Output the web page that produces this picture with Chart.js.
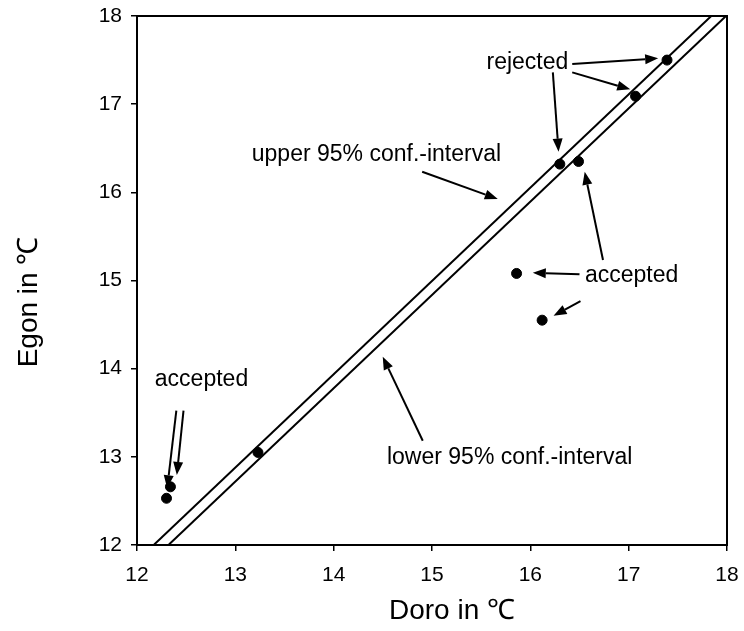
<!DOCTYPE html>
<html lang="en">
<head>
    <meta charset="UTF-8">
    <title>Egon vs Doro</title>
    <script src="https://cdnjs.cloudflare.com/ajax/libs/Chart.js/4.4.0/chart.umd.min.js"></script>
    <style>
        html, body { margin: 0; padding: 0; background: #fff; }
        .chart-box { position: relative; width: 744px; height: 631px; }
    </style>
</head>
<body>
    <div class="chart-box">
        <canvas id="tempChart"></canvas>
    </div>

    <script>
        // measured points (Doro vs Egon, degrees C)
        const doroValues = [12.30, 12.34, 13.23, 15.86, 16.12, 16.30, 16.49, 17.07, 17.39];
        const egonValues = [12.53, 12.66, 13.05, 15.08, 14.55, 16.32, 16.35, 17.09, 17.50];

        // confidence interval lines (two end points each)
        const upperX = [12.17, 17.84];
        const upperY = [12, 18];
        const lowerX = [12.32, 17.99];
        const lowerY = [12, 18];

        const xTicks = [12, 13, 14, 15, 16, 17, 18];
        const yTicks = [12, 13, 14, 15, 16, 17, 18];

        // annotation texts, anchored in data units
        const noteTexts = ['rejected', 'upper 95% conf.-interval', 'accepted', 'lower 95% conf.-interval', 'accepted'];
        const noteX = [15.97, 14.435, 17.03, 15.79, 12.656];
        const noteY = [17.47, 16.423, 15.05, 12.99, 13.871];

        // arrows: start -> head, data units
        const arrowFromX = [16.426, 16.426, 16.229, 16.739, 16.50, 16.51, 14.90, 14.906, 12.40, 12.473];
        const arrowFromY = [17.455, 17.361, 17.361, 15.232, 15.07, 14.767, 16.234, 13.183, 13.523, 13.523];
        const arrowToX = [17.30, 17.016, 16.287, 16.553, 16.025, 16.236, 15.669, 14.499, 12.307, 12.405];
        const arrowToY = [17.52, 17.168, 16.461, 16.234, 15.088, 14.60, 15.924, 14.136, 12.643, 12.794];

        const fontFamily = '"Liberation Sans", Arial, sans-serif';

        function toPoints(xs, ys) {
            return xs.map((v, i) => ({ x: v, y: ys[i] }));
        }

        function drawArrow(ctx, x0, y0, x1, y1) {
            const ang = Math.atan2(y1 - y0, x1 - x0);
            const headLen = 13, headW = 5;
            const bx = x1 - headLen * Math.cos(ang);
            const by = y1 - headLen * Math.sin(ang);
            ctx.beginPath();
            ctx.moveTo(x0, y0);
            ctx.lineTo(bx, by);
            ctx.stroke();
            ctx.beginPath();
            ctx.moveTo(x1, y1);
            ctx.lineTo(bx + headW * Math.sin(ang), by - headW * Math.cos(ang));
            ctx.lineTo(bx - headW * Math.sin(ang), by + headW * Math.cos(ang));
            ctx.closePath();
            ctx.fill();
        }

        const notesPlugin = {
            id: 'notes',
            afterDatasetsDraw(chart) {
                const { ctx, chartArea: a, scales: { x, y } } = chart;
                ctx.save();
                ctx.strokeStyle = '#000';
                ctx.fillStyle = '#000';

                // plot frame
                ctx.lineWidth = 2;
                ctx.strokeRect(a.left, a.top, a.right - a.left, a.bottom - a.top);

                // arrows
                arrowFromX.forEach((v, i) => {
                    drawArrow(ctx,
                        x.getPixelForValue(v), y.getPixelForValue(arrowFromY[i]),
                        x.getPixelForValue(arrowToX[i]), y.getPixelForValue(arrowToY[i]));
                });

                // annotation texts
                ctx.font = '23px ' + fontFamily;
                ctx.textAlign = 'center';
                ctx.textBaseline = 'middle';
                noteTexts.forEach((t, i) => {
                    ctx.fillText(t, x.getPixelForValue(noteX[i]), y.getPixelForValue(noteY[i]));
                });

                // axis titles
                ctx.font = '28px ' + fontFamily;
                ctx.fillText('Doro in ℃', 452, 611);
                ctx.translate(29, 302);
                ctx.rotate(-Math.PI / 2);
                ctx.fillText('Egon in ℃', 0, 0);
                ctx.restore();
            }
        };

        const ctx = document.getElementById('tempChart').getContext('2d');
        new Chart(ctx, {
            type: 'scatter',
            data: {
                datasets: [{
                    label: 'values',
                    data: toPoints(doroValues, egonValues),
                    backgroundColor: '#000',
                    borderColor: '#000',
                    pointRadius: 5,
                    order: 0
                }, {
                    label: 'upper',
                    type: 'line',
                    data: toPoints(upperX, upperY),
                    borderColor: '#000',
                    borderWidth: 2,
                    pointRadius: 0,
                    fill: false,
                    order: 1
                }, {
                    label: 'lower',
                    type: 'line',
                    data: toPoints(lowerX, lowerY),
                    borderColor: '#000',
                    borderWidth: 2,
                    pointRadius: 0,
                    fill: false,
                    order: 1
                }]
            },
            options: {
                responsive: true,
                maintainAspectRatio: false,
                animation: false,
                layout: { padding: { top: 16, right: 17, left: 0, bottom: 0 } },
                plugins: {
                    legend: { display: false },
                    tooltip: { enabled: false }
                },
                scales: {
                    x: {
                        type: 'linear',
                        min: 12,
                        max: 18,
                        afterFit: s => { s.height = 86; s.paddingLeft = 0; s.paddingRight = 0; },
                        afterBuildTicks: s => { s.ticks = xTicks.map(v => ({ value: v })); },
                        grid: { drawOnChartArea: false, drawTicks: true, tickLength: 6, color: '#000', lineWidth: 1.5 },
                        border: { display: false },
                        ticks: { color: '#000', padding: 12, font: { family: fontFamily, size: 21 } }
                    },
                    y: {
                        type: 'linear',
                        min: 12,
                        max: 18,
                        afterFit: s => { s.width = 137; s.paddingTop = 0; s.paddingBottom = 0; },
                        afterBuildTicks: s => { s.ticks = yTicks.map(v => ({ value: v })); },
                        grid: { drawOnChartArea: false, drawTicks: true, tickLength: 6, color: '#000', lineWidth: 1.5 },
                        border: { display: false },
                        ticks: { color: '#000', padding: 9, font: { family: fontFamily, size: 21 } }
                    }
                }
            },
            plugins: [notesPlugin]
        });
    </script>
</body>
</html>
